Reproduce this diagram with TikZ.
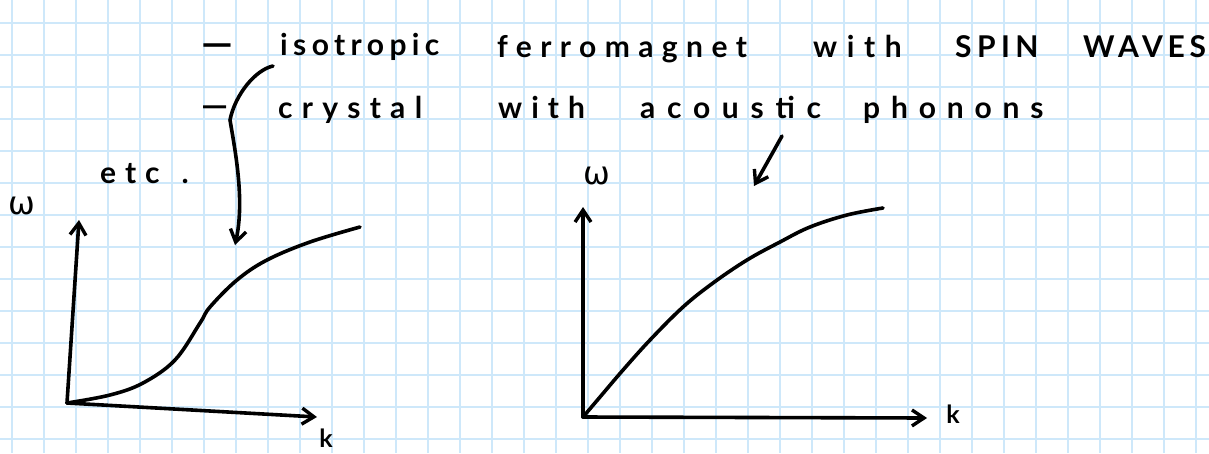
\documentclass[tikz,border=0pt]{standalone}
\usepackage{fontspec}
\usetikzlibrary{arrows.meta}
\newfontfamily\handfont{Lato}
\newfontfamily\greekfont{DejaVu Sans}
\newcommand\spaced[1]{\addfontfeature{LetterSpace=#1}}
\definecolor{gridblue}{RGB}{206,232,250}

\begin{document}
\begin{tikzpicture}[
    x=1pt, y=-1pt,
    % papel cuadriculado
    gridline/.style={draw=gridblue, line width=2pt},
    % trazo de rotulador
    pen/.style={line width=3.6pt, line cap=round, line join=round},
    tip/.style={-{Straight Barb[length=12pt, width=16pt, line width=3.4pt]}},
    axis/.style={pen, tip},
    % texto manuscrito
    word/.style={font=\handfont\bfseries\fontsize{30}{36}\selectfont, anchor=base west, inner sep=0pt},
    bullet/.style={word, font=\handfont\bfseries\fontsize{40}{44}\selectfont},
    axlabel/.style={font=\handfont\bfseries\fontsize{25}{30}\selectfont, inner sep=0pt},
    greek/.style={font=\greekfont\fontsize{32}{36}\selectfont, inner sep=0pt}
]

\useasboundingbox (0,0) rectangle (1209,453);
\fill[white] (0,0) rectangle (1209,453);

% --- Cuadricula ---
\foreach \gx in {0,...,37} \draw[gridline] ({12+32*\gx},0) -- ({12+32*\gx},453);
\foreach \gy in {0,...,13} \draw[gridline] (0,{22.5+32*\gy}) -- (1209,{22.5+32*\gy});

% --- Linea 1 ---
\node[bullet] (dash1) at (201,57) {—};
\node[word] (iso) at (280,55) {\spaced{18}isotropic};
\node[word] (ferro) at (497,57) {\spaced{28}ferromagnet};
\node[word] (with1) at (813,57) {\spaced{32}with};
\node[word] (spin) at (955,57) {\spaced{18}SPIN};
\node[word] (waves) at (1083,57) {\spaced{16}WAVES};

% --- Linea 2 ---
\node[bullet, font=\handfont\bfseries\fontsize{34}{40}\selectfont] (dash2) at (201,117) {—};
\node[word] (crys) at (278,118) {\spaced{31}crystal};
\node[word] (with2) at (498,118) {\spaced{30}with};
\node[word] (acou) at (640,118) {\spaced{39}acoustic};
\node[word] (phon) at (863,118) {\spaced{36}phonons};

\node[word] (etc) at (100,183) {\spaced{30}etc\hspace*{22pt}.};

% --- Grafica izquierda ---
\coordinate (o1) at (67,403);
\coordinate (w1) at (79,220);
\coordinate (k1) at (317,417);
\draw[axis] (o1) -- (w1);
\draw[axis] (o1) -- (k1);
\node[greek] (om1) at (22,206) {ω};
\node[axlabel] (kk1) at (326,438) {k};
\draw[pen] plot[smooth, tension=0.6] coordinates {(o1) (110,395) (143,383) (175,360) (200,323) (210,307) (237,280) (267,260) (310,242) (360,227)};

% --- Grafica derecha ---
\coordinate (o2) at (583,417);
\coordinate (w2) at (583,207);
\coordinate (k2) at (927,418);
\draw[axis] (o2) -- (w2);
\draw[axis] (o2) -- (k2);
\node[greek] (om2) at (597,176) {ω};
\node[axlabel] (kk2) at (953,414) {k};
\draw[pen] plot[smooth, tension=0.6] coordinates {(o2) (600,397) (623,370) (650,340) (683,307) (713,283) (747,260) (780,242) (810,227) (847,215) (883,208)};

% --- Flechas desde el texto ---
\coordinate (a1s) at (273,66);
\coordinate (a1e) at (235,245);
\draw[pen, tip] (a1s) .. controls (255,70) and (235,95) .. (230,120) .. controls (235,150) and (245,200) .. (a1e);
\coordinate (a2s) at (782,136);
\coordinate (a2e) at (754,186);
\draw[pen, tip] (a2s) -- (a2e);

\end{tikzpicture}
\end{document}
